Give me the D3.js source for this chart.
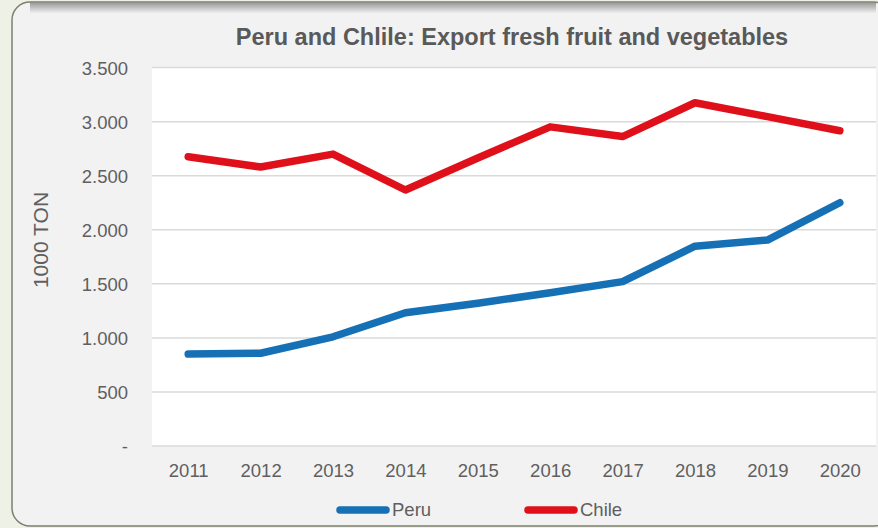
<html>
<head>
<meta charset="utf-8">
<title>Peru and Chile exports</title>
<style>
  body { margin: 0; background: #eef2e6; }
  svg { display: block; font-family: "Liberation Sans", Arial, sans-serif; }
  .grid line { stroke: #dadada; stroke-width: 1.5px; }
  .tick text { fill: #5f5f5f; }
</style>
</head>
<body>
<svg id="chart" width="878" height="528"></svg>

<script src="https://d3js.org/d3.v7.min.js"></script>
<script>

// data (1000 ton)
var years = ["2011", "2012", "2013", "2014", "2015", "2016", "2017", "2018", "2019", "2020"];
var peru  = [850, 858, 1010, 1232, 1320, 1418, 1520, 1848, 1905, 2250];
var chile = [2676, 2580, 2700, 2368, 2664, 2952, 2862, 3175, 3046, 2916];
var yTicks = [0, 500, 1000, 1500, 2000, 2500, 3000, 3500];
var seriesNames = ["Peru", "Chile"];
var seriesColors = ["#1570b6", "#e0101a"];

var svg = d3.select("#chart");

// card background
var defs = svg.append("defs");
var grad = defs.append("linearGradient").attr("id", "topShade")
    .attr("x1", 0).attr("y1", 0).attr("x2", 0).attr("y2", 1);
grad.append("stop").attr("offset", "0%").attr("stop-color", "#7a7a7a");
grad.append("stop").attr("offset", "100%").attr("stop-color", "#f2f2f2");

svg.append("rect")
    .attr("x", 12).attr("y", 2).attr("width", 880).attr("height", 524)
    .attr("rx", 18).attr("ry", 18)
    .attr("fill", "#f2f2f2")
    .attr("stroke", "#7d7f70").attr("stroke-width", 1.5);
svg.append("rect")
    .attr("x", 30).attr("y", 2.5).attr("width", 846).attr("height", 11)
    .attr("fill", "url(#topShade)").attr("opacity", 0.75);

var x = d3.scalePoint().domain(years).range([152, 876]).padding(0.5);
var y = d3.scaleLinear().domain([0, 3500]).range([446, 67.6]);

// plot area
svg.append("rect")
    .attr("x", 152).attr("y", y(3500))
    .attr("width", 724).attr("height", y(0) - y(3500))
    .attr("fill", "#ffffff");

var grid = svg.append("g").attr("class", "grid");
grid.selectAll("line").data(yTicks).enter().append("line")
    .attr("x1", 152).attr("x2", 876)
    .attr("y1", function(d) { return y(d); })
    .attr("y2", function(d) { return y(d); });

var fmt = d3.formatLocale({decimal: ",", thousands: ".", grouping: [3], currency: ["", ""]}).format(",.0f");

var yAxis = svg.append("g")
    .attr("transform", "translate(128,0)")
    .call(d3.axisLeft(y).tickValues(yTicks).tickSize(0).tickPadding(0)
        .tickFormat(function(d) { return d == 0 ? "-" : fmt(d); }));
yAxis.select(".domain").remove();
yAxis.selectAll("text").style("font-size", "18.5px").attr("dy", "0.35em");

var xAxis = svg.append("g")
    .attr("transform", "translate(0,460)")
    .call(d3.axisBottom(x).tickSize(0).tickPadding(0));
xAxis.select(".domain").remove();
xAxis.selectAll("text").style("font-size", "18.5px").attr("dy", "0.9em");

svg.append("text")
    .attr("transform", "translate(48,240) rotate(-90)")
    .attr("text-anchor", "middle")
    .attr("fill", "#5f5f5f")
    .style("font-size", "21px")
    .text("1000 TON");

svg.append("text")
    .attr("x", 512).attr("y", 45)
    .attr("text-anchor", "middle")
    .attr("fill", "#595959")
    .style("font-size", "23.5px").style("font-weight", "bold")
    .text("Peru and Chlile: Export fresh fruit and vegetables");

var line = d3.line()
    .x(function(d, i) { return x(years[i]); })
    .y(function(d) { return y(d); });

[peru, chile].forEach(function(s, i) {
    svg.append("path")
        .datum(s)
        .attr("d", line)
        .attr("fill", "none")
        .attr("stroke", seriesColors[i])
        .attr("stroke-width", 7.5)
        .attr("stroke-linejoin", "round")
        .attr("stroke-linecap", "round");
});

// legend
var legX = [340, 528];
var leg = svg.selectAll(".leg").data(seriesNames).enter().append("g")
    .attr("class", "leg")
    .attr("transform", function(d, i) { return "translate(" + legX[i] + ",510)"; });
leg.append("line")
    .attr("x1", 0).attr("x2", 46).attr("y1", 0).attr("y2", 0)
    .attr("stroke", function(d, i) { return seriesColors[i]; })
    .attr("stroke-width", 7.5).attr("stroke-linecap", "round");
leg.append("text")
    .attr("x", 52).attr("dy", "0.35em")
    .attr("fill", "#5f5f5f")
    .style("font-size", "18.5px")
    .text(function(d) { return d; });

</script>
</body>
</html>
